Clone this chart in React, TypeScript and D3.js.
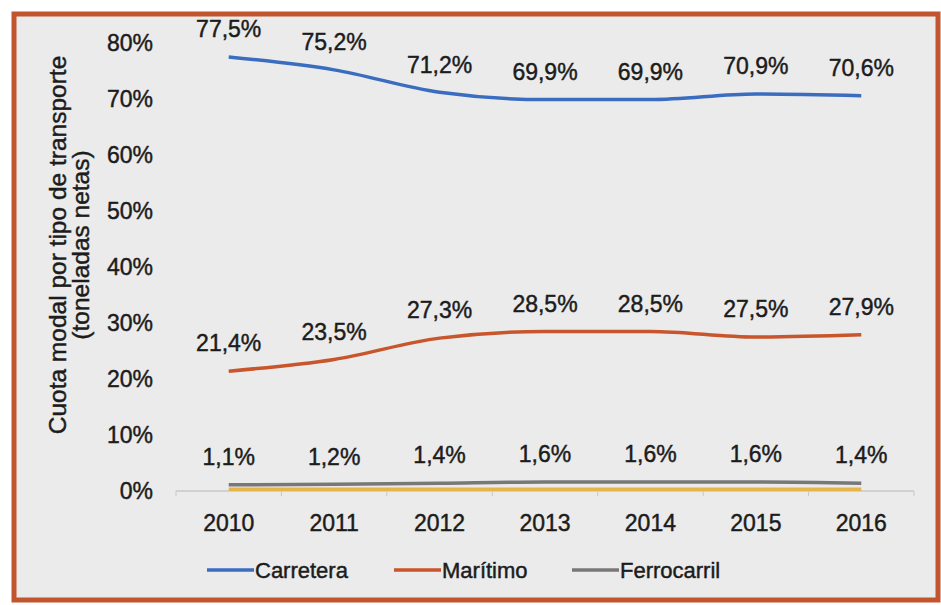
import React, { useEffect, useRef } from "react";
import * as d3 from "d3";

const years = ["2010", "2011", "2012", "2013", "2014", "2015", "2016"];
const carretera = [77.5, 75.2, 71.2, 69.9, 69.9, 70.9, 70.6];
const maritimo = [21.4, 23.5, 27.3, 28.5, 28.5, 27.5, 27.9];
const ferrocarril = [1.1, 1.2, 1.4, 1.6, 1.6, 1.6, 1.4];
const otros = [0.3, 0.3, 0.3, 0.3, 0.3, 0.3, 0.3];
const yTicks = [0, 10, 20, 30, 40, 50, 60, 70, 80];
const legendNames = ["Carretera", "Marítimo", "Ferrocarril"];

const W = 941;
const H = 605;

export default function App() {
  const ref = useRef<SVGSVGElement>(null);
  useEffect(() => {
    const svg = d3.select(ref.current);
    svg.selectAll("*").remove();
    const font = "Liberation Sans, Arial, sans-serif";
    const ink = "#1c1c1c";
    const txt = (sel: any, size: number) =>
      sel.attr("font-family", font).attr("font-size", size).attr("fill", ink)
        .attr("stroke", ink).attr("stroke-width", 0.45);

    svg.append("rect").attr("x", 0).attr("y", 0).attr("width", W).attr("height", H).attr("fill", "#ffffff");
    svg.append("rect").attr("x", 14).attr("y", 14).attr("width", W - 17).attr("height", H - 19)
      .attr("fill", "#ebebeb").attr("stroke", "#c2542e").attr("stroke-width", 5);

    const x = d3.scaleBand().domain(years).range([176, 914]);
    const y = d3.scaleLinear().domain([0, 80]).range([491, 43]);
    const cx = (d: string) => (x(d) as number) + x.bandwidth() / 2;

    // axis line
    svg.append("line").attr("x1", 176).attr("x2", 914).attr("y1", y(0)).attr("y2", y(0))
      .attr("stroke", "#c8c8c8").attr("stroke-width", 1.5);
    const bounds = years.map((d) => x(d) as number).concat([914]);
    svg.selectAll(".tk").data(bounds).enter().append("line")
      .attr("x1", (d) => d).attr("x2", (d) => d).attr("y1", y(0)).attr("y2", y(0) + 5)
      .attr("stroke", "#c8c8c8").attr("stroke-width", 1);

    // y tick labels
    txt(svg.selectAll(".yl").data(yTicks).enter().append("text")
      .attr("x", 153).attr("y", (d) => y(d)).attr("dy", "0.36em").attr("text-anchor", "end"), 23)
      .text((d: number) => `${d}%`);

    // x tick labels
    txt(svg.selectAll(".xl").data(years).enter().append("text")
      .attr("x", (d) => cx(d)).attr("y", 523).attr("dy", "0.36em").attr("text-anchor", "middle"), 23)
      .text((d: string) => d);

    // y axis title
    const tg = svg.append("g").attr("transform", "translate(57,245) rotate(-90)");
    txt(tg.append("text").attr("text-anchor", "middle").attr("dy", "0.36em"), 24.5)
      .text("Cuota modal por tipo de transporte");
    txt(tg.append("text").attr("y", 23).attr("text-anchor", "middle").attr("dy", "0.36em"), 24.5)
      .text("(toneladas netas)");

    const series = [
      { vals: otros, color: "#e6b54a", labels: false },
      { vals: ferrocarril, color: "#787878", labels: true },
      { vals: maritimo, color: "#c8552b", labels: true },
      { vals: carretera, color: "#3a6cc0", labels: true },
    ];
    const line = d3.line<number>()
      .x((_, i) => cx(years[i]))
      .y((d) => y(d))
      .curve(d3.curveMonotoneX);
    series.forEach((s) => {
      svg.append("path").attr("d", line(s.vals) as string).attr("fill", "none")
        .attr("stroke", s.color).attr("stroke-width", 3.5);
      if (s.labels) {
        txt(svg.selectAll(null).data(s.vals).enter().append("text")
          .attr("x", (_, i) => cx(years[i])).attr("y", (d) => y(d) - 28).attr("dy", "0.36em")
          .attr("text-anchor", "middle"), 23)
          .text((d: number) => d.toFixed(1).replace(".", ",") + "%");
      }
    });

    // legend
    const legendColors = ["#3a6cc0", "#c8552b", "#787878"];
    const legendX = [207, 394, 572];
    legendNames.forEach((n, i) => {
      svg.append("line").attr("x1", legendX[i]).attr("x2", legendX[i] + 47).attr("y1", 570).attr("y2", 570)
        .attr("stroke", legendColors[i]).attr("stroke-width", 3.5);
      txt(svg.append("text").attr("x", legendX[i] + 48).attr("y", 570).attr("dy", "0.36em"), 22).text(n);
    });
  }, []);
  return (
    <svg ref={ref} width={W} height={H} style={{ position: "absolute", left: 0, top: 0 }} />
  );
}
